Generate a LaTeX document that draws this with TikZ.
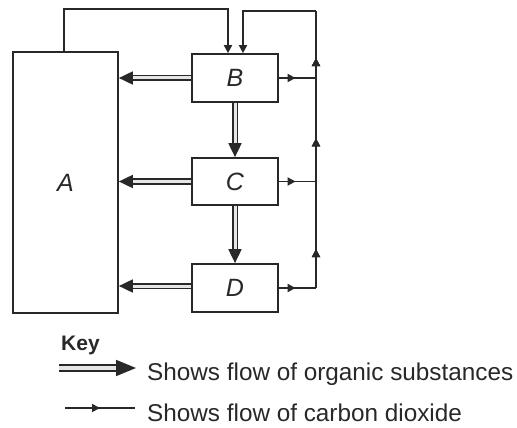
\documentclass[tikz,border=0pt]{standalone}
\usepackage{fontspec}
\setmainfont{Liberation Sans}
\usetikzlibrary{arrows.meta,decorations.markings}
\definecolor{ink}{RGB}{40,40,40}
\tikzset{
  box/.style={draw=ink, line width=1.7pt, fill=white, font=\fontsize{25}{25}\selectfont\itshape, text=ink},
  organic/.style={draw=ink, double=white!90!black, double distance=3pt, line width=1.8pt,
     -{Triangle[length=14pt,width=13pt]}},
  co2/.style={draw=ink, line width=1.7pt},
  co2end/.style={co2, -{Triangle[length=8pt,width=8pt]}},
  midtip/.style={postaction={decorate}, decoration={markings,
     mark=at position #1 with {\arrow{Triangle[length=8pt,width=8pt]}}}},
  keytext/.style={anchor=base west, text=ink, font=\fontsize{24.3}{24.3}\selectfont, inner sep=0pt},
}
\begin{document}
\begin{tikzpicture}[x=1pt,y=-1pt]
\useasboundingbox (0,0) rectangle (517,428);
% boxes
\node[box, minimum width=105pt, minimum height=261pt] (A) at (65.5,182.5) {A};
\node[box, minimum width=86pt, minimum height=48pt] (B) at (235,78) {B};
\node[box, minimum width=86pt, minimum height=47pt] (C) at (235,181.5) {C};
\node[box, minimum width=86pt, minimum height=48pt] (D) at (235,288) {D};
% right collector
\coordinate (R) at (316,11);
\coordinate (RB) at (316,78);
\coordinate (RC) at (316,181.5);
\coordinate (RD) at (316,288);
\coordinate (T1) at (228,9);
\coordinate (Dw) at ([yshift=2pt]D.west);
% organic flows
\draw[organic] (B.west) -- (A.east |- B.west);
\draw[organic] (C.west) -- (A.east |- C.west);
\draw[organic] (Dw) -- (A.east |- Dw);
\draw[organic] (B.south) -- (C.north);
\draw[organic] (C.south) -- (D.north);
% carbon dioxide flows
\draw[co2, midtip=0.45] (B.east) -- (RB);
\draw[co2, midtip=0.45] (C.east) -- (RC);
\draw[co2, midtip=0.45] (D.east) -- (RD);
\draw[co2, midtip=0.14, midtip=0.54, midtip=0.83] (RD) -- (R);
\draw[co2end] (R) -| ([xshift=8pt]B.north);
\draw[co2end] ([xshift=-1.5pt]A.north) |- (T1) -- ([xshift=-7pt]B.north);
% key
\node[anchor=base west, text=ink, font=\fontsize{21}{21}\selectfont\bfseries, inner sep=0pt] (key) at (61,350) {Key};
\coordinate (k1a) at (59,368);
\coordinate (k1b) at (136,368);
\coordinate (k2a) at (65,408);
\coordinate (k2b) at (135,408);
\draw[organic, double distance=3.5pt, -{Triangle[length=20pt,width=16pt]}] (k1a) -- (k1b);
\draw[co2, midtip=0.5] (k2a) -- (k2b);
\node[keytext] (t1) at (147,380) {Shows flow of organic substances};
\node[keytext] (t2) at (147,421) {Shows flow of carbon dioxide};
\end{tikzpicture}
\end{document}
